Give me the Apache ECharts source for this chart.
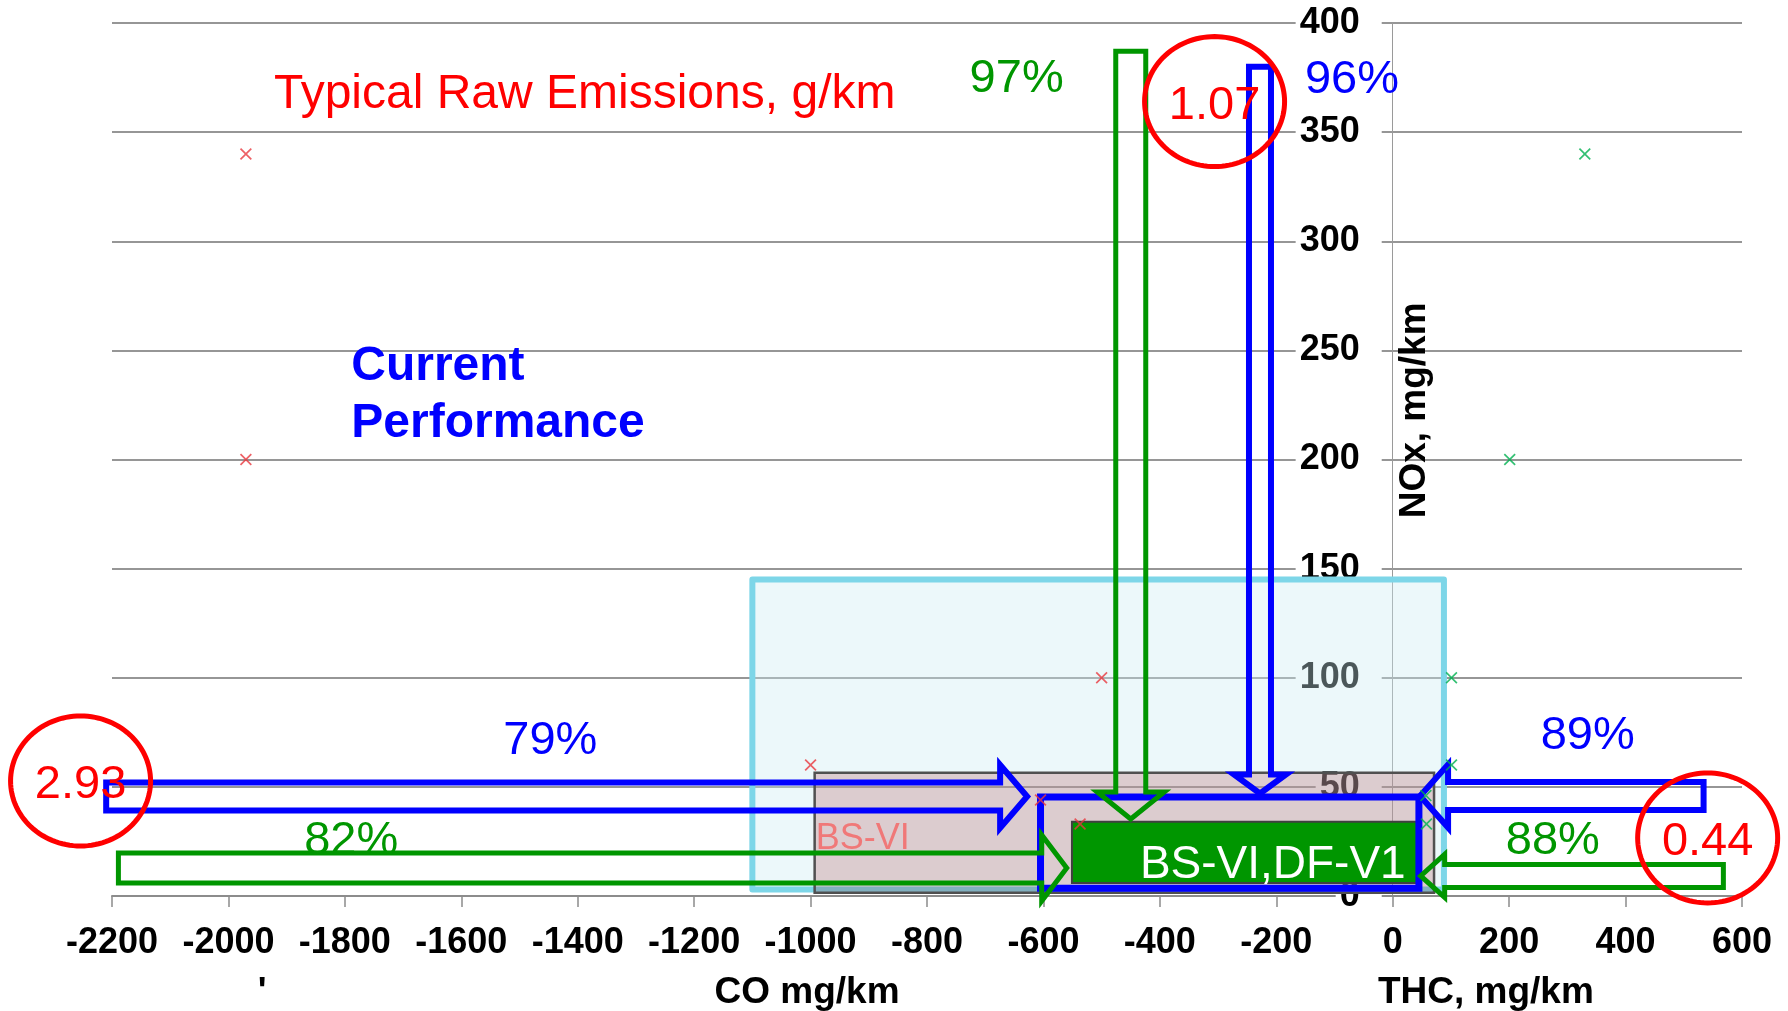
<!DOCTYPE html>
<html><head><meta charset="utf-8">
<script src="https://cdn.jsdelivr.net/npm/echarts@6/dist/echarts.min.js"></script>
<style>html,body{margin:0;padding:0;background:#fff}#c{width:1788px;height:1011px}</style>
</head><body><div id="c"></div>
<script>
// ---------------- data ----------------
const X_MIN = -2200, X_MAX = 600, X_STEP = 200;
const Y_MIN = 0, Y_MAX = 400, Y_STEP = 50;
const yTickValues = [0, 50, 100, 150, 200, 250, 300, 350, 400];
const yTickLabels = ['0', '50', '100', '150', '200', '250', '300', '350', '400'];

// scatter "x" marks: CO (left, red) and THC (right, green) vs NOx
const coPoints  = [[-1970, 340], [-1970, 200], [-500, 100], [-1000, 60], [-605, 44], [-537, 33]];
const thcPoints = [[330, 340], [201, 200], [101, 100], [101, 60], [57, 46], [58, 33]];

// zones [x1, y1, x2, y2] in data units
const zoneNames = ['Raw zone', 'BS-VI', 'BS-VI,DF-V1', 'Current'];
const zones = [[-1100, 3, 88, 145], [-993, 1.5, 71, 56.5], [-551, 6, 45, 34], [-605, 3.6, 45, 45.4]];

// horizontal arrows [tailX, tipX, y]
const hArrows = [[-2210, -628, 45.6], [-2189, -560, 12.8], [534, 47, 45.8], [568, 48, 9.2]];
// vertical arrows [x, tailY, tipY]
const vArrows = [[-450, 387, 35.3], [-228, 380, 47]];

// circled raw-emission values
const circleLabels = ['1.07', '2.93', '0.44'];
const circleCenters = [[-306, 364], [-2254, 52.7], [541, 26.6]];

// reduction percentages
const pctLabels = ['97%', '96%', '79%', '82%', '89%', '88%'];
const pctPositions = [[-646, 376], [-70, 375.5], [-1447, 73], [-1789, 26.8], [335, 75], [275, 26.8]];

// notes
const noteLabels = ['Typical Raw Emissions, g/km', 'Current', 'Performance', 'BS-VI', 'BS-VI,DF-V1'];
const notePositions = [[-1388, 369], [-1789, 244.4], [-1789, 218], [-991, 28], [-206, 16]];

// axis names
const axisNameLabels = ['CO mg/km', 'THC, mg/km', "'", 'NOx, mg/km'];
const axisNamePositions = [[-1006, -43], [160, -43], [-1942, -43], [38, 222.5]];

// ---------------- styles ----------------
const FONT = '"Liberation Sans", Arial, sans-serif';
const GREEN = '#009600', BLUE = '#0000ff', RED = '#ff0000';
const TEXT_DY = 4;
const zoneStyles = [
  { fill: 'rgba(203,236,241,0.37)', stroke: '#7dd6e8', lineWidth: 6, lineJoin: 'round' },
  { fill: 'rgba(156,16,23,0.19)', stroke: '#505050', lineWidth: 2.5 },
  { fill: '#009600', stroke: '#404040', lineWidth: 2 },
  { fill: null, stroke: BLUE, lineWidth: 7 }
];
const hArrowStyles = [
  { color: BLUE, lw: 6, sh: 14, hh: 31.5, hl: 27 },
  { color: GREEN, lw: 5, sh: 15, hh: 33, hl: 25 },
  { color: BLUE, lw: 6, sh: 14, hh: 31.5, hl: 28 },
  { color: GREEN, lw: 5, sh: 11.5, hh: 21.5, hl: 24 }
];
const vArrowStyles = [
  { color: GREEN, lw: 5, sh: 15, hh: 33.5, hl: 27 },
  { color: BLUE, lw: 6, sh: 11, hh: 26, hl: 19 }
];
const pctColors = [GREEN, BLUE, BLUE, GREEN, BLUE, GREEN];
const noteStyles = [
  { fill: RED, font: '48px ' + FONT, align: 'center' },
  { fill: BLUE, font: 'bold 48px ' + FONT, align: 'left' },
  { fill: BLUE, font: 'bold 48px ' + FONT, align: 'left' },
  { fill: '#f07878', font: '36px ' + FONT, align: 'left' },
  { fill: '#ffffff', font: '46px ' + FONT, align: 'center' }
];

const X_MARK = 'path://M0,1 L1,0 L5,4 L9,0 L10,1 L6,5 L10,9 L9,10 L5,6 L1,10 L0,9 L4,5 Z';

function ellipsePts(cx, cy, rx, ry) {
  const pts = [];
  for (let i = 0; i < 120; i++) {
    const a = i / 120 * Math.PI * 2;
    pts.push([cx + rx * Math.cos(a), cy + ry * Math.sin(a)]);
  }
  return pts;
}

const chart = echarts.init(document.getElementById('c'), null, { renderer: 'canvas' });
chart.setOption({
  animation: false,
  backgroundColor: '#ffffff',
  grid: { left: 112, right: 46, top: 23, bottom: 115, containLabel: false, outerBoundsMode: 'none' },
  xAxis: {
    type: 'value', min: X_MIN, max: X_MAX, interval: X_STEP,
    axisLine: { onZero: true, lineStyle: { color: '#8c8c8c', width: 2 } },
    axisTick: { show: true, length: 11, lineStyle: { color: '#8c8c8c', width: 1.5 } },
    axisLabel: { margin: 29, fontSize: 36, fontWeight: 'bold', color: '#000', fontFamily: FONT,
      formatter: v => String(v), showMinLabel: true, showMaxLabel: true, hideOverlap: false },
    splitLine: { show: false }
  },
  yAxis: {
    type: 'value', min: Y_MIN, max: Y_MAX, interval: Y_STEP,
    axisLine: { show: true, onZero: true, lineStyle: { color: '#9a9a9a', width: 1 } },
    axisTick: { show: false },
    axisLabel: { show: false },
    splitLine: { show: true, lineStyle: { color: '#969696', width: 2 } }
  },
  series: [
    // y tick labels drawn at x = 0 (the axis crosses there), under the shaded zones
    { type: 'custom', name: 'yLabels', coordinateSystem: 'cartesian2d', clip: false, silent: true,
      data: yTickValues.map(v => [0, v]),
      renderItem: (params, api) => {
        const c = api.coord([api.value(0), api.value(1)]);
        return { type: 'text', x: c[0] - 11, y: c[1], style: { text: yTickLabels[params.dataIndex],
          fill: '#000', font: 'bold 36px ' + FONT, align: 'right', verticalAlign: 'middle',
          backgroundColor: '#ffffff', padding: [2, 22, 2, 4] } };
      } },
    { type: 'scatter', name: 'CO', data: coPoints, symbol: X_MARK, symbolSize: 12,
      itemStyle: { color: '#e8383f' }, silent: true },
    { type: 'scatter', name: 'THC', data: thcPoints, symbol: X_MARK, symbolSize: 12,
      itemStyle: { color: '#00b050' }, silent: true },
    { type: 'custom', name: 'zones', coordinateSystem: 'cartesian2d', clip: false, silent: true,
      data: zones,
      renderItem: (params, api) => {
        const p1 = api.coord([api.value(0), api.value(3)]);
        const p2 = api.coord([api.value(2), api.value(1)]);
        return { type: 'rect', shape: { x: p1[0], y: p1[1], width: p2[0] - p1[0], height: p2[1] - p1[1] },
          style: zoneStyles[params.dataIndex] };
      } },
    { type: 'custom', name: 'hArrows', coordinateSystem: 'cartesian2d', clip: false, silent: true,
      data: hArrows,
      renderItem: (params, api) => {
        const s = hArrowStyles[params.dataIndex];
        const t = api.coord([api.value(0), api.value(2)]);
        const p = api.coord([api.value(1), api.value(2)]);
        const dir = p[0] > t[0] ? 1 : -1;
        const b = p[0] - dir * s.hl, y = t[1];
        return { type: 'polygon', shape: { points: [
          [t[0], y - s.sh], [b, y - s.sh], [b, y - s.hh], [p[0], y], [b, y + s.hh], [b, y + s.sh], [t[0], y + s.sh]] },
          style: { fill: null, stroke: s.color, lineWidth: s.lw, lineJoin: 'miter' } };
      } },
    { type: 'custom', name: 'vArrows', coordinateSystem: 'cartesian2d', clip: false, silent: true,
      data: vArrows,
      renderItem: (params, api) => {
        const s = vArrowStyles[params.dataIndex];
        const t = api.coord([api.value(0), api.value(1)]);
        const p = api.coord([api.value(0), api.value(2)]);
        const b = p[1] - s.hl, x = t[0];
        return { type: 'polygon', shape: { points: [
          [x - s.sh, t[1]], [x - s.sh, b], [x - s.hh, b], [x, p[1]], [x + s.hh, b], [x + s.sh, b], [x + s.sh, t[1]]] },
          style: { fill: null, stroke: s.color, lineWidth: s.lw, lineJoin: 'miter' } };
      } },
    { type: 'custom', name: 'circles', coordinateSystem: 'cartesian2d', clip: false, silent: true,
      data: circleCenters,
      renderItem: (params, api) => {
        const c = api.coord([api.value(0), api.value(1)]);
        return { type: 'group', children: [
          { type: 'polygon', shape: { points: ellipsePts(c[0], c[1], 70, 65) },
            style: { fill: null, stroke: RED, lineWidth: 5 } },
          { type: 'text', x: c[0], y: c[1] + TEXT_DY, style: { text: circleLabels[params.dataIndex], fill: RED,
            font: '47px ' + FONT, align: 'center', verticalAlign: 'middle' } }
        ] };
      } },
    { type: 'custom', name: 'pct', coordinateSystem: 'cartesian2d', clip: false, silent: true,
      data: pctPositions,
      renderItem: (params, api) => {
        const c = api.coord([api.value(0), api.value(1)]);
        return { type: 'text', x: c[0], y: c[1] + TEXT_DY, style: { text: pctLabels[params.dataIndex],
          fill: pctColors[params.dataIndex], font: '47px ' + FONT, align: 'center', verticalAlign: 'middle' } };
      } },
    { type: 'custom', name: 'notes', coordinateSystem: 'cartesian2d', clip: false, silent: true,
      data: notePositions,
      renderItem: (params, api) => {
        const c = api.coord([api.value(0), api.value(1)]);
        const s = noteStyles[params.dataIndex];
        return { type: 'text', x: c[0], y: c[1] + TEXT_DY, z2: 10, style: { text: noteLabels[params.dataIndex],
          fill: s.fill, font: s.font, align: s.align, verticalAlign: 'middle' } };
      } },
    { type: 'custom', name: 'axisNames', coordinateSystem: 'cartesian2d', clip: false, silent: true,
      data: axisNamePositions,
      renderItem: (params, api) => {
        const c = api.coord([api.value(0), api.value(1)]);
        const vertical = params.dataIndex === 3;
        return { type: 'text', x: c[0], y: c[1] + (vertical ? 0 : 3), rotation: vertical ? Math.PI / 2 : 0,
          style: { text: axisNameLabels[params.dataIndex],
          fill: '#000', font: 'bold 37px ' + FONT, align: 'center', verticalAlign: 'middle' } };
      } }
  ]
});
</script>
</body></html>
